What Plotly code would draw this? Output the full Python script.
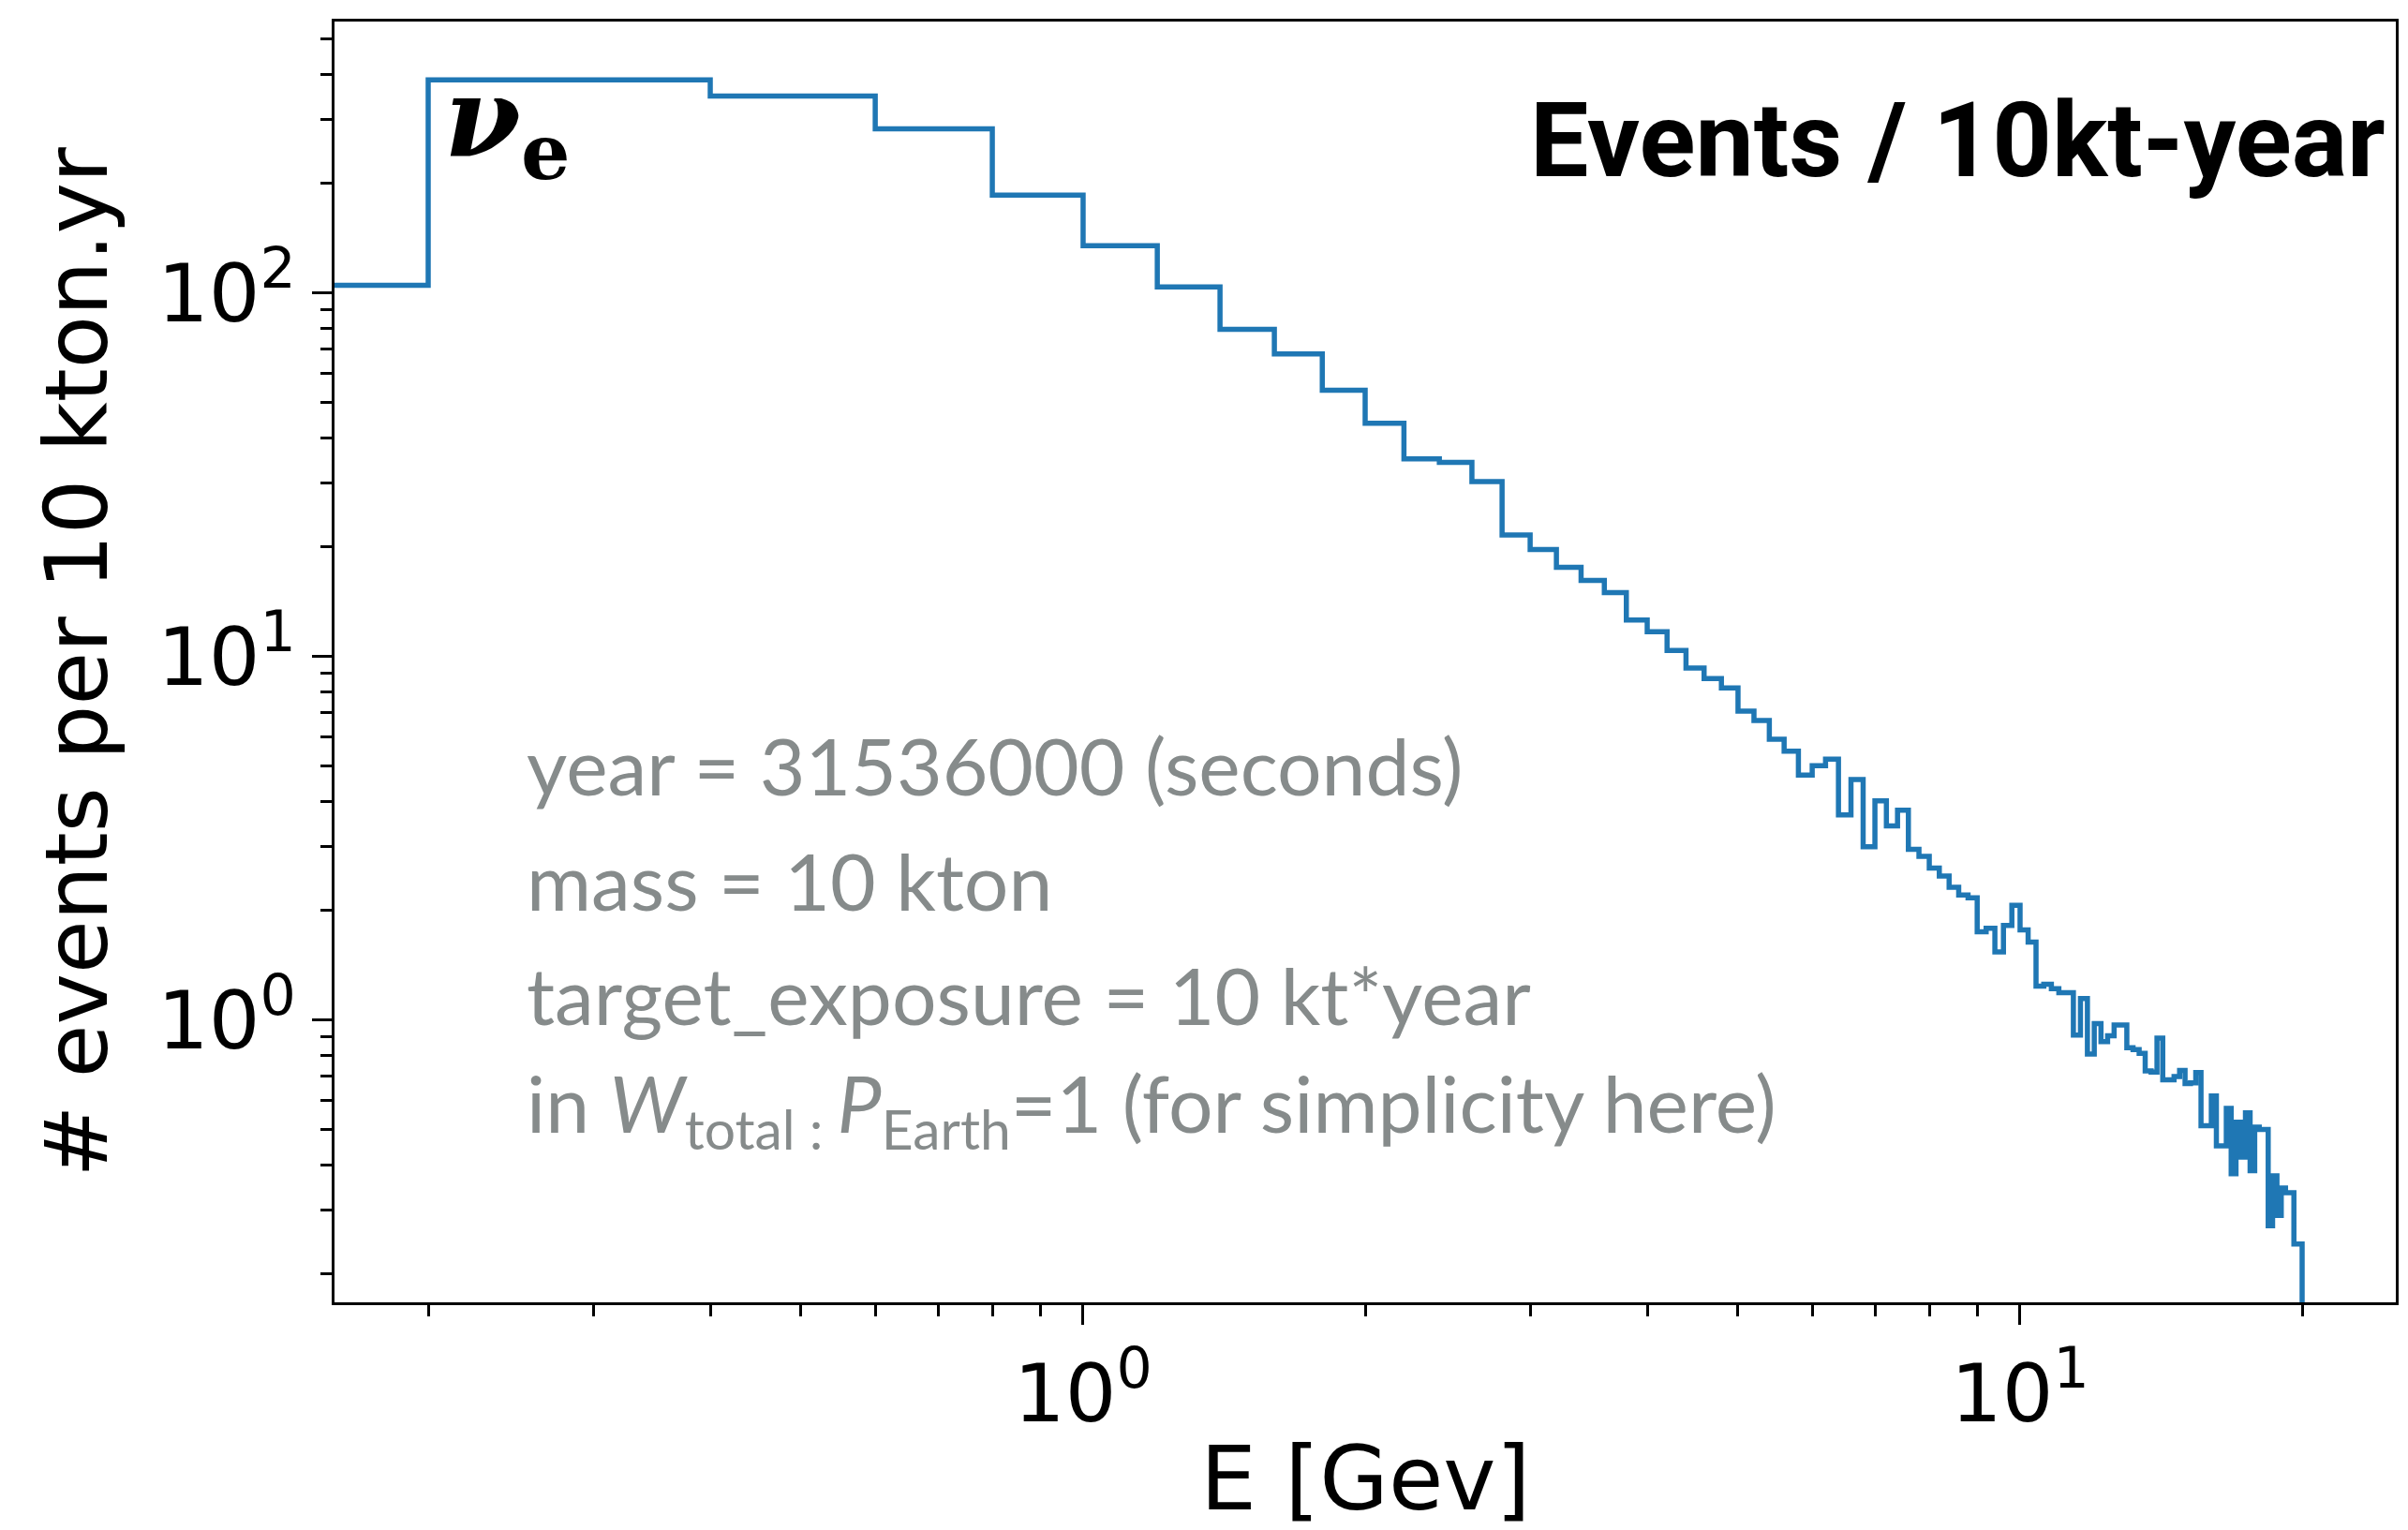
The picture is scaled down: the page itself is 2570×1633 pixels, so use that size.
import numpy as np
import plotly.graph_objects as go

# ---------------- data ----------------
bin_edges = [round(0.2 * k, 1) for k in range(101)]  # 0.0 ... 20.0 GeV
events = [
    105, 386, 348, 283, 186, 135, 104, 79.4, 68, 54,
    43.8, 35, 34.2, 30.3, 21.6, 19.7, 17.6, 16.2, 15.0, 12.6,
    11.7, 10.4, 9.3, 8.7, 8.2, 7.08, 6.67, 5.92, 5.49, 4.72,
    5.01, 5.22, 3.67, 4.59, 3.0, 4.01, 3.42, 3.78, 2.95, 2.82,
    2.62, 2.49, 2.32, 2.21, 2.17, 1.75, 1.79, 1.54, 1.82, 2.07,
    1.77, 1.64, 1.24, 1.255, 1.22, 1.19, 1.19, 0.91, 1.146, 0.807,
    0.978, 0.872, 0.906, 0.969, 0.969, 0.84, 0.83, 0.81, 0.725, 0.72,
    0.892, 0.685, 0.685, 0.70, 0.727, 0.669, 0.672, 0.717, 0.512, 0.512,
    0.618, 0.451, 0.451, 0.572, 0.378, 0.524, 0.42, 0.556, 0.385, 0.508,
    0.50, 0.50, 0.272, 0.373, 0.29, 0.345, 0.335, 0.335, 0.242, 0.242,
]
x_major = [1, 10]
x_major_text = ["10<sup>0</sup>", "10<sup>1</sup>"]
y_major = [1, 10, 100]
y_major_text = ["10<sup>0</sup>", "10<sup>1</sup>", "10<sup>2</sup>"]

x_label = "E [Gev]"
y_label = "# events per 10 kton.yr"
title_text = "Events / 10kt-year"
flavour_text = "<b><i>ν</i></b><sub><b>e</b></sub>"
info_lines = [
    "year = 31536000 (seconds)",
    "mass = 10 kton",
    "target_exposure = 10 kt*year",
    "in <i>W</i><sub>total : </sub><i>P</i><sub>Earth</sub>=1 (for simplicity here)",
]

# ---------------- layout constants ----------------
W, H = 2570, 1633
L, R, T, B = 357, 13, 23, 243
PW, PH = W - L - R, H - T - B


def px_x(px):
    return (px - L) / PW


def px_y(py):
    return (H - B - py) / PH


# step path (histtype='step'); zero values are not representable on log axes
tiny = 1e-3
edges = [e if e > 0 else tiny for e in bin_edges]
xs = edges[:-1] + [edges[-1], edges[-1]]
ys = events + [events[-1], tiny]

# autoscale like matplotlib (5 % margins in log space)
pos_edges = [e for e in bin_edges if e > 0]
lx0, lx1 = np.log10(min(pos_edges)), np.log10(max(pos_edges))
ly0, ly1 = np.log10(min(events)), np.log10(max(events))
mx, my = 0.05 * (lx1 - lx0), 0.05 * (ly1 - ly0)
x_range = [lx0 - mx, lx1 + mx]
y_range = [ly0 - my, ly1 + my]

x_minor = [m * 10.0 ** d for d in range(-1, 2) for m in range(2, 10)
           if x_range[0] <= np.log10(m * 10.0 ** d) <= x_range[1]]
y_minor = [m * 10.0 ** d for d in range(-1, 3) for m in range(2, 10)
           if y_range[0] <= np.log10(m * 10.0 ** d) <= y_range[1]]

fig = go.Figure()
fig.add_trace(go.Scatter(
    x=xs, y=ys, mode="lines", line_shape="hv",
    line=dict(color="#1f77b4", width=5.5), showlegend=False,
    hoverinfo="skip",
))

tick_font = dict(family="DejaVu Sans", size=86, color="black")
common = dict(
    showline=True, linecolor="black", linewidth=3, mirror=True,
    showgrid=False, zeroline=False, ticks="outside", ticklen=21,
    tickwidth=3, tickcolor="black", tickfont=tick_font,
)
fig.update_xaxes(
    type="log", range=x_range, tickmode="array", tickvals=x_major,
    ticktext=x_major_text,
    minor=dict(tickmode="array", tickvals=x_minor, ticks="outside",
               ticklen=12, tickwidth=2.5, tickcolor="black", showgrid=False),
    **common,
)
fig.update_yaxes(
    type="log", range=y_range, tickmode="array", tickvals=y_major,
    ticktext=y_major_text,
    minor=dict(tickmode="array", tickvals=y_minor, ticks="outside",
               ticklen=12, tickwidth=2.5, tickcolor="black", showgrid=False),
    **common,
)

annotations = [
    dict(text=y_label, x=px_x(82), y=0.5, xref="paper", yref="paper",
         textangle=-90, showarrow=False, xanchor="center", yanchor="middle",
         font=dict(family="DejaVu Sans", size=92, color="black")),
    dict(text=x_label, x=0.5, y=px_y(1578), xref="paper", yref="paper",
         showarrow=False, xanchor="center", yanchor="middle",
         font=dict(family="DejaVu Sans", size=95, color="black")),
    dict(text="<b>" + title_text + "</b>", x=px_x(2548), y=px_y(150),
         xref="paper", yref="paper", showarrow=False, xanchor="right",
         yanchor="middle",
         font=dict(family="Roboto", size=111, color="black")),
    dict(text=flavour_text, x=px_x(472), y=px_y(132), xref="paper",
         yref="paper", showarrow=False, xanchor="left", yanchor="middle",
         font=dict(family="DejaVu Serif", size=118, color="black")),
]
info_mid = [816, 939, 1061, 1183]
for line, py in zip(info_lines, info_mid):
    annotations.append(dict(
        text=line, x=px_x(560), y=px_y(py), xref="paper", yref="paper",
        showarrow=False, xanchor="left", yanchor="middle",
        font=dict(family="Lato", size=84, color="#868b8b")))

fig.update_layout(
    width=W, height=H, autosize=False,
    margin=dict(l=L, r=R, t=T, b=B, autoexpand=False),
    paper_bgcolor="white", plot_bgcolor="white",
    annotations=annotations, showlegend=False,
)

fig.write_html("out.html", include_plotlyjs=True, full_html=True,
               config=dict(displayModeBar=False))
